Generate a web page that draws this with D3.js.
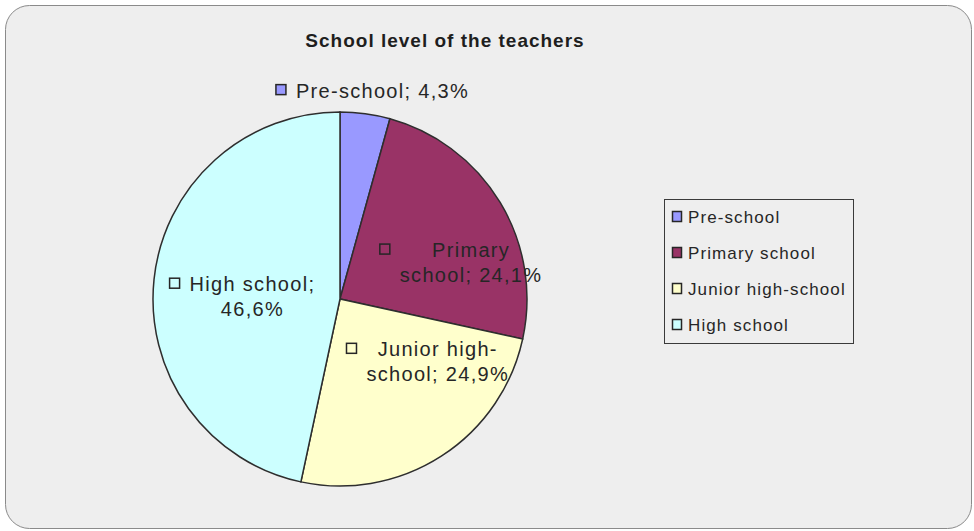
<html>
<script src="https://d3js.org/d3.v7.min.js"></script>
<style>
  body { margin: 0; background: #ffffff; }
  text { font-family: "Liberation Sans", Arial, sans-serif; fill: #262626; }
</style>
<body>
<div id="chart_area"></div>
</body>
<script>

// data
var categories = ["Pre-school", "Primary school", "Junior high-school", "High school"];
var shares = [4.3, 24.1, 24.9, 46.6];
var colors = ["#9999ff", "#993366", "#ffffcc", "#ccffff"];
var title = "School level of the teachers";
// where each data label wraps (text kept on line 1)
var labelBreaks = [null, "Primary", "Junior high-", "High school;"];

var width = 974, height = 531;
var cx = 340, cy = 299, radius = 187;

var svg = d3.select("#chart_area").append("svg")
    .attr("width", width).attr("height", height);

// chart area frame
svg.append("rect")
    .attr("x", 5.5).attr("y", 5.5)
    .attr("width", 966).attr("height", 523)
    .attr("rx", 24).attr("ry", 24)
    .attr("fill", "#eeeeee")
    .attr("stroke", "#8a8a8a").attr("stroke-width", 1);

svg.append("text")
    .attr("x", 445).attr("y", 47)
    .attr("text-anchor", "middle")
    .style("font-size", "19px").style("font-weight", "bold")
    .style("letter-spacing", "1px")
    .style("fill", "#1e1e1e")
    .text(title);

var data = categories.map(function(c, i) { return {name: c, value: shares[i], color: colors[i]}; });

var pie = d3.pie().sort(null).value(function(d) { return d.value; });
var arcs = pie(data);
var arc = d3.arc().innerRadius(0).outerRadius(radius);

var g = svg.append("g").attr("transform", "translate(" + cx + "," + cy + ")");

g.selectAll("path.slice")
    .data(arcs)
  .enter().append("path")
    .attr("class", "slice")
    .attr("d", arc)
    .attr("fill", function(d) { return d.data.color; })
    .attr("stroke", "#2e2e2e")
    .attr("stroke-width", 1.5);

// label anchor: radius factor and nudge from that point
var labelLayout = [
  {r: 1.13, dx: 14, dy: 8},
  {r: 0.6, dx: 35, dy: 16},
  {r: 0.6, dx: 37, dy: -37},
  {r: 0.6, dx: 24, dy: 4}
];

var fmt = function(v) { return d3.format(".1f")(v).replace(".", ","); };

arcs.forEach(function(d, i) {
  var lay = labelLayout[i];
  var mid = (d.startAngle + d.endAngle) / 2;
  var x = Math.sin(mid) * radius * lay.r + lay.dx;
  var y = -Math.cos(mid) * radius * lay.r + lay.dy;
  var full = d.data.name + "; " + fmt(d.data.value) + "%";
  var lines = [full];
  if (labelBreaks[i]) {
    lines = [labelBreaks[i], full.slice(labelBreaks[i].length).trim()];
  }
  var lg = g.append("g");
  var maxW = 0;
  lines.forEach(function(l, k) {
    var t = lg.append("text")
        .attr("x", x).attr("y", y + k * 25)
        .attr("text-anchor", "middle")
        .style("font-size", "20px")
        .style("letter-spacing", "1.3px")
        .text(l);
    maxW = Math.max(maxW, t.node().getComputedTextLength());
  });
  lg.append("rect")
      .attr("x", x - maxW / 2 - 9 - 11).attr("y", y - 13)
      .attr("width", 10).attr("height", 10)
      .attr("fill", d.data.color)
      .attr("stroke", "#262626").attr("stroke-width", 1.5);
});

// legend
var legend = svg.append("g").attr("transform", "translate(664,199)");
legend.append("rect")
    .attr("x", 0.5).attr("y", 0.5)
    .attr("width", 189).attr("height", 144)
    .attr("fill", "#eeeeee")
    .attr("stroke", "#3a3a3a").attr("stroke-width", 1);

var rowY = d3.scaleBand().domain(categories).range([0, 144]);

var items = legend.selectAll("g.item")
    .data(data)
  .enter().append("g")
    .attr("class", "item")
    .attr("transform", function(d) { return "translate(0," + (rowY(d.name) + rowY.bandwidth() / 2) + ")"; });

items.append("rect")
    .attr("x", 8.5).attr("y", -5.5)
    .attr("width", 9).attr("height", 10)
    .attr("fill", function(d) { return d.color; })
    .attr("stroke", "#262626").attr("stroke-width", 1.5);

items.append("text")
    .attr("x", 24).attr("y", 6)
    .style("font-size", "17px")
    .style("letter-spacing", "1.1px")
    .text(function(d) { return d.name; });

</script>
</html>
